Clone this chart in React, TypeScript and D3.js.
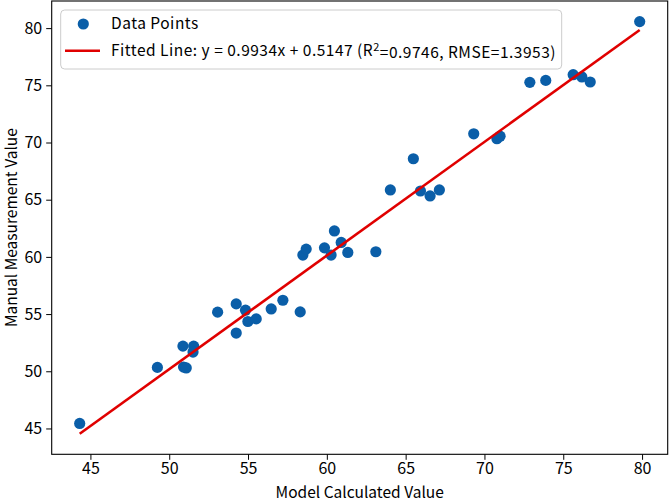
import React, { useEffect, useRef } from "react";
import * as d3 from "d3";

const modelValues = [
  44.32, 49.25, 50.87, 51.55, 51.51, 50.91, 51.08, 53.07, 54.25, 54.84,
  54.99, 55.52, 54.25, 56.47, 57.21, 58.31, 58.48, 58.69, 59.85, 60.27,
  60.48, 60.91, 61.33, 63.11, 64.03, 65.49, 65.94, 66.55, 67.14, 69.32,
  70.79, 70.99, 72.88, 73.89, 75.63, 76.18, 76.71, 79.85,
];
const manualValues = [
  45.44, 50.34, 52.2, 52.2, 51.68, 50.37, 50.29, 55.17, 55.89, 55.34,
  54.35, 54.58, 53.34, 55.45, 56.21, 55.19, 60.16, 60.68, 60.79, 60.16,
  62.27, 61.26, 60.39, 60.45, 65.85, 68.58, 65.76, 65.33, 65.85, 70.76,
  70.33, 70.55, 75.26, 75.43, 75.93, 75.73, 75.29, 80.57,
];
const slope = 0.9934;
const intercept = 0.5147;
const r2 = "0.9746";
const rmse = "1.3953";
const tickValues = [45, 50, 55, 60, 65, 70, 75, 80];

const W = 670;
const H = 502;
const FONT = "'Noto Sans CJK SC', 'Noto Sans', sans-serif";
const BLUE = "#0a5ea8";
const RED = "#e00000";

const App: React.FC = () => {
  const svgRef = useRef<SVGSVGElement | null>(null);

  useEffect(() => {
    if (!svgRef.current) return;
    const svg = d3.select(svgRef.current);
    svg.selectAll("*").remove();

    const margin = { top: 1, right: 2.3, bottom: 47.7, left: 51.7 };
    const innerW = W - margin.left - margin.right;
    const innerH = H - margin.top - margin.bottom;

    const points = modelValues.map((x, i) => ({ x, y: manualValues[i] }));
    const xMin = d3.min(modelValues)!;
    const xMax = d3.max(modelValues)!;
    const lineData = [xMin, xMax].map((x) => ({ x, y: slope * x + intercept }));

    // matplotlib-style 5% padding around data + fitted line
    const xPad = (xMax - xMin) * 0.05;
    const yLo = Math.min(d3.min(manualValues)!, lineData[0].y);
    const yHi = Math.max(d3.max(manualValues)!, lineData[1].y);
    const yPad = (yHi - yLo) * 0.05;

    const x = d3.scaleLinear().domain([xMin - xPad, xMax + xPad]).range([0, innerW]);
    const y = d3.scaleLinear().domain([yLo - yPad, yHi + yPad]).range([innerH, 0]);

    const g = svg.append("g").attr("transform", `translate(${margin.left},${margin.top})`);

    // points
    g.selectAll(".pt")
      .data(points)
      .enter()
      .append("circle")
      .attr("class", "pt")
      .attr("cx", (d) => x(d.x))
      .attr("cy", (d) => y(d.y))
      .attr("r", 5.6)
      .style("fill", BLUE);

    // fitted line
    const line = d3.line<{ x: number; y: number }>().x((d) => x(d.x)).y((d) => y(d.y));
    g.append("path")
      .datum(lineData)
      .attr("d", line)
      .style("fill", "none")
      .style("stroke", RED)
      .style("stroke-width", 2.6);

    // axes
    const xAxis = g
      .append("g")
      .attr("transform", `translate(0,${innerH})`)
      .call(d3.axisBottom(x).tickValues(tickValues).tickSize(5.5).tickPadding(2.5).tickSizeOuter(0));
    const yAxis = g
      .append("g")
      .call(d3.axisLeft(y).tickValues(tickValues).tickSize(5.5).tickPadding(4).tickSizeOuter(0));
    [xAxis, yAxis].forEach((a) => {
      a.select(".domain").remove();
      a.selectAll("line").style("stroke", "#000").style("stroke-width", 1);
      a.selectAll("text").style("font-family", FONT).style("font-size", "16px").style("fill", "#000");
    });

    // frame
    g.append("rect")
      .attr("width", innerW)
      .attr("height", innerH)
      .style("fill", "none")
      .style("stroke", "#000")
      .style("stroke-width", 1.1);

    // axis labels
    svg.append("text")
      .attr("x", margin.left + innerW / 2)
      .attr("y", 498)
      .attr("text-anchor", "middle")
      .style("font-family", FONT)
      .style("font-size", "15.5px")
      .text("Model Calculated Value");

    svg.append("text")
      .attr("transform", `translate(17,${margin.top + innerH / 2}) rotate(-90)`)
      .attr("text-anchor", "middle")
      .style("font-family", FONT)
      .style("font-size", "15.5px")
      .text("Manual Measurement Value");

    // legend
    const lg = svg.append("g");
    lg.append("rect")
      .attr("x", 60.7)
      .attr("y", 10)
      .attr("width", 501)
      .attr("height", 59)
      .attr("rx", 4)
      .style("fill", "#fff")
      .style("fill-opacity", 0.8)
      .style("stroke", "#cccccc")
      .style("stroke-width", 1);
    lg.append("circle").attr("cx", 83.3).attr("cy", 24).attr("r", 5.6).style("fill", BLUE);
    lg.append("line")
      .attr("x1", 65).attr("x2", 100).attr("y1", 50.7).attr("y2", 50.7)
      .style("stroke", RED).style("stroke-width", 2.6);
    lg.append("text")
      .attr("x", 111).attr("y", 24).attr("dy", "0.35em")
      .style("font-family", FONT).style("font-size", "15.5px")
      .style("letter-spacing", "0.5px")
      .text("Data Points");
    const t = lg.append("text")
      .attr("x", 111).attr("y", 50.5).attr("dy", "0.35em")
      .style("font-family", FONT).style("font-size", "15.5px")
      .style("letter-spacing", "0.5px");
    t.append("tspan").text(`Fitted Line: y = ${slope}x + ${intercept} (R`);
    t.append("tspan").attr("dy", "-0.45em").style("font-size", "11px").text("2");
    t.append("tspan").attr("dy", "0.45em").text(`=${r2}, RMSE=${rmse})`);
  }, []);

  return (
    <div style={{ position: "fixed", left: 0, top: 0, width: W, height: H, background: "#fff" }}>
      <svg ref={svgRef} width={W} height={H} />
    </div>
  );
};

export default App;
